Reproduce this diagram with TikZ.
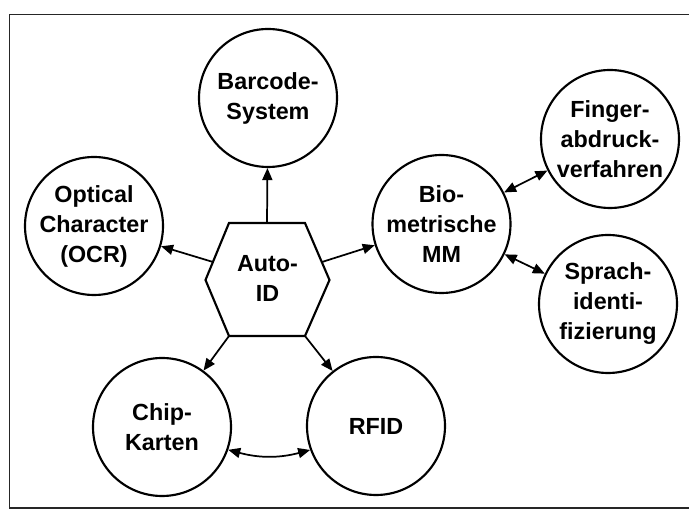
\documentclass[tikz,border=0pt]{standalone}
\usepackage{fontspec}
\setmainfont{Liberation Sans}
\usetikzlibrary{arrows.meta}

\begin{document}
\begin{tikzpicture}[x=0.75pt, y=0.75pt,
    every node/.style={font=\bfseries\fontsize{17.5}{22.5}\selectfont, align=center},
    kreis/.style={draw, circle, line width=1.6pt, minimum size=103.5pt, inner sep=0pt},
    pfeil/.style={line width=1.3pt, -{Triangle[length=9pt,width=7.5pt]}},
    doppelpfeil/.style={line width=1.3pt, {Triangle[length=9pt,width=7.5pt]}-{Triangle[length=9pt,width=7.5pt]}}]
		% Frame
		\clip (0,0) rectangle (689,510);
		\draw[line width=1.3pt, black!85] (9.5,2) rectangle (700,495.5);

		% Hexagon
		\coordinate (h1) at (229,287);
		\coordinate (h2) at (305,287);
		\coordinate (h3) at (329.5,230);
		\coordinate (h4) at (305,174);
		\coordinate (h5) at (229,174);
		\coordinate (h6) at (205.5,230);
		\draw[line width=1.6pt] (h1) -- (h2) -- (h3) -- (h4) -- (h5) -- (h6) -- cycle;
		\node (auto) at (267.5,232) {Auto-\\ID};

		% Circles
		\node[kreis] (barcode) at (268,412) {Barcode-\\System};
		\node[kreis] (ocr) at (94,284) {Optical\\Character\\(OCR)};
		\node[kreis] (bio) at (441.5,286) {Bio-\\metrische\\MM};
		\node[kreis] (finger) at (610,371) {Finger-\\abdruck-\\verfahren};
		\node[kreis] (sprach) at (608,206) {Sprach-\\identi-\\fizierung};
		\node[kreis] (chip) at (162,83) {Chip-\\Karten};
		\node[kreis] (rfid) at (376,84) {RFID};

		% Arrows
		\coordinate (hoben) at (267,287);
		\coordinate (hlinks) at (213,248);
		\coordinate (hrechts) at (322,248);
		\draw[pfeil] (hoben) -- (barcode);
		\draw[pfeil] (hlinks) -- (ocr);
		\draw[pfeil] (hrechts) -- (bio);
		\draw[pfeil] (h5) -- (chip);
		\draw[pfeil] (h4) -- (rfid);
		\draw[doppelpfeil] (bio) -- (finger);
		\draw[doppelpfeil] (bio) -- (sprach);
		\draw[doppelpfeil] (chip.-19) to[bend right=15] (rfid.200);
	\end{tikzpicture}
\end{document}
